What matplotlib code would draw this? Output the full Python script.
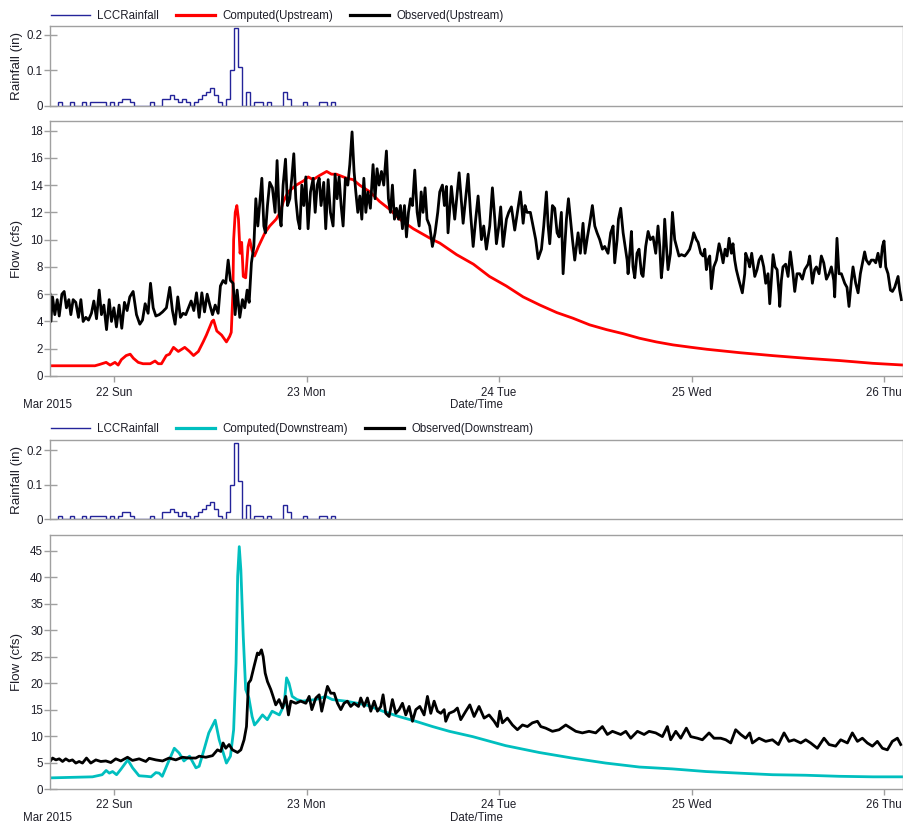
import numpy as np
import pandas as pd
import matplotlib
matplotlib.use("Agg")
import matplotlib.pyplot as plt
import matplotlib.dates as mdates
from matplotlib.lines import Line2D

plt.rcParams["font.family"] = ["Liberation Sans", "DejaVu Sans"]
plt.rcParams["font.size"] = 8.3

# all series are offsets from this time stamp
T0 = pd.Timestamp("2015-03-21 16:00")
T_END = pd.Timestamp("2015-03-26 02:22")

# LCC gauge, 30-minute totals (in), first interval starts 21 Mar 17:00
rain_start = pd.Timestamp("2015-03-21 17:00")
rain_in = [
    0.01, 0, 0, 0.01, 0, 0, 0.01, 0, 0.01, 0.01, 0.01, 0.01, 0, 0.01, 0,
    0.01, 0.02, 0.02, 0.01, 0, 0, 0, 0, 0.01, 0, 0, 0.02, 0.02, 0.03, 0.02,
    0.01, 0.02, 0.01, 0, 0.01, 0.02, 0.03, 0.04, 0.05, 0.03, 0.01, 0, 0.02,
    0.10, 0.22, 0.11, 0, 0.04, 0, 0.01, 0.01, 0, 0.01, 0, 0, 0, 0.04, 0.02,
    0, 0, 0, 0.01, 0, 0, 0, 0.01, 0.01, 0, 0.01,
]

# upstream model result, hours since T0
comp_up_hr = [
    0, 5.6, 6.2, 7.0, 7.5, 8.1, 8.5, 8.9, 9.5, 10.0, 10.4, 11.0, 11.6, 12.5,
    13.1, 13.5, 13.9, 14.5, 14.9, 15.4, 16.0, 16.8, 17.4, 17.9, 18.5, 19.1,
    19.5, 20.2, 20.4, 20.8, 21.4, 22.0, 22.4, 22.6, 22.8, 22.9, 23.1, 23.3,
    23.5, 23.7, 23.9, 24.1, 24.4, 24.7, 24.9, 25.2, 25.5, 26.0, 26.4, 26.8,
    27.4, 28.2, 28.7, 29.1, 29.7, 30.7, 31.6, 32.2, 32.8, 33.6, 34.5, 35.1,
    35.7, 37.0, 37.8, 38.6, 39.9, 41.1, 42.4, 43.6, 45.3, 47.7, 48.6, 50.7,
    52.8, 54.8, 56.9, 59.0, 61.1, 63.2, 65.2, 67.3, 69.4, 71.5, 73.5, 75.6,
    77.7, 80.0, 81.9, 86.0, 90.2, 94.3, 98.5, 102.6, 106.2,
]
comp_up_cfs = [
    0.75, 0.75, 0.85, 1.0, 0.8, 1.0, 0.8, 1.2, 1.5, 1.6, 1.3, 1.0, 0.9, 0.9,
    1.1, 0.9, 0.9, 1.5, 1.6, 2.1, 1.8, 2.1, 1.8, 1.5, 1.8, 2.5,
    3.0, 4.0, 4.1, 3.3, 3.0, 2.5, 2.9, 3.2, 6.0, 10.0, 12.0, 12.5,
    11.5, 9.0, 9.8, 7.3, 7.2, 9.5, 10.0, 9.2, 8.8, 9.5, 10.0, 10.5,
    11.0, 11.5, 12.0, 12.8, 13.5, 14.0, 14.3, 14.6, 14.4, 14.7, 15.0, 14.8,
    14.8, 14.5, 14.4, 14.0, 13.5, 12.8, 12.2, 11.5, 10.8, 10.0, 9.75, 8.9,
    8.2, 7.3, 6.6, 5.8, 5.2, 4.65, 4.24, 3.75, 3.4, 3.1, 2.77, 2.5,
    2.28, 2.1, 1.96, 1.71, 1.49, 1.3, 1.13, 0.93, 0.81,
]

# upstream gauge, minutes since T0
obs_up_min = [
    0, 6, 19, 36, 54, 69, 89, 106, 123, 141, 156, 173, 193, 213, 231, 248,
    268, 288, 310, 328, 348, 368, 385, 403, 423, 443, 460, 478, 497, 517,
    537, 557, 577, 597, 622, 647, 672, 692, 712, 734, 752, 772, 792, 817,
    842, 871, 896, 916, 936, 956, 976, 996, 1016, 1036, 1056, 1076, 1096,
    1116, 1136, 1156, 1176, 1196, 1216, 1236, 1258, 1275, 1295, 1315, 1333,
    1350, 1370, 1385, 1400, 1420, 1440, 1457, 1475, 1490, 1507, 1525, 1540,
    1555, 1570, 1585, 1600, 1612, 1627, 1644, 1664, 1684, 1699, 1714, 1729,
    1744, 1762, 1777, 1794, 1809, 1824, 1839, 1854, 1869, 1884, 1899, 1914,
    1931, 1949, 1969, 1984, 1999, 2014, 2028, 2048, 2063, 2081, 2098, 2118,
    2133, 2148, 2163, 2178, 2193, 2210, 2228, 2243, 2260, 2275, 2288, 2303,
    2318, 2333, 2348, 2363, 2378, 2397, 2417, 2432, 2447, 2462, 2480, 2497,
    2517, 2532, 2547, 2562, 2577, 2592, 2607, 2622, 2637, 2652, 2667, 2682,
    2697, 2712, 2729, 2747, 2762, 2777, 2791, 2806, 2821, 2841, 2861, 2881,
    2901, 2916, 2936, 2951, 2966, 2978, 3003, 3028, 3061, 3091, 3128, 3146,
    3166, 3185, 3203, 3228, 3245, 3265, 3290, 3310, 3328, 3340, 3358, 3372,
    3390, 3415, 3432, 3452, 3477, 3497, 3520, 3540, 3554, 3569, 3594, 3614,
    3634, 3652, 3677, 3694, 3714, 3727, 3739, 3759, 3776, 3794, 3809, 3826,
    3839, 3864, 3879, 3894, 3909, 3926, 3951, 3968, 3988, 4003, 4021, 4038,
    4058, 4076, 4093, 4113, 4133, 4150, 4175, 4195, 4213, 4225, 4243, 4253,
    4270, 4288, 4303, 4318, 4325, 4342, 4350, 4362, 4375, 4392, 4407, 4425,
    4437, 4457, 4475, 4492, 4512, 4532, 4549, 4562, 4574, 4587, 4599, 4612,
    4624, 4642, 4657, 4674, 4687, 4706, 4724, 4749, 4766, 4786, 4806, 4816,
    4836, 4849, 4869, 4886, 4899, 4911, 4923, 4936, 4948, 4966, 4986, 5006,
    5023, 5036, 5051, 5066, 5081, 5098, 5110, 5123, 5135, 5155, 5180, 5198,
    5205, 5223, 5235, 5250, 5273, 5290, 5305, 5322, 5340, 5355, 5372, 5385,
    5397, 5410, 5425, 5440, 5455, 5460, 5472, 5484, 5504, 5522, 5539, 5559,
    5572, 5589, 5609, 5629, 5647, 5672, 5684, 5704, 5721, 5734, 5754, 5771,
    5789, 5809, 5829, 5846, 5864, 5871, 5888, 5903, 5921, 5946, 5963, 5978,
    5996, 6008, 6028, 6046, 6063, 6083, 6095, 6108, 6128, 6145, 6163, 6178,
    6195, 6213, 6228, 6240, 6253, 6270, 6288, 6303, 6320, 6345, 6357, 6370,
]
obs_up_cfs = [
    6.0, 4.0, 5.8, 4.5, 5.6, 4.4, 6.0, 6.2, 5.0, 5.6, 4.5, 5.6, 5.4, 4.3, 5.6, 4.0,
    4.3, 4.1, 4.6, 5.5, 4.2, 6.3, 4.5, 5.2, 3.4, 5.6, 4.0, 5.0, 3.6, 5.2,
    3.5, 5.4, 4.8, 5.8, 6.2, 4.5, 3.8, 4.1, 5.3, 4.6, 6.8, 5.0, 4.4, 4.5,
    4.7, 5.0, 6.5, 4.8, 3.8, 5.8, 4.3, 4.6, 4.5, 5.0, 5.5, 4.8, 6.1,
    4.3, 6.1, 4.7, 6.0, 5.2, 4.5, 5.2, 4.6, 6.6, 7.0, 6.8, 8.5,
    7.0, 6.8, 4.5, 6.3, 4.3, 5.6, 5.0, 6.3, 5.4, 8.3, 9.5, 13.0,
    11.0, 12.8, 14.5, 11.0, 10.5, 12.5, 14.2, 13.8, 12.0, 15.8, 12.0, 11.0,
    14.0, 15.9, 12.5, 13.0, 14.5, 16.3, 13.0, 11.5, 10.8, 14.0, 12.5, 14.6,
    10.8, 13.5, 14.5, 12.0, 14.0, 14.5, 12.5, 14.2, 10.8, 14.4, 12.0, 11.0,
    14.8, 13.0, 14.6, 12.5, 11.0, 14.5, 14.0, 15.5, 17.9, 15.0, 13.5, 12.0,
    13.2, 11.5, 14.5, 12.0, 13.5, 12.3, 15.5, 13.0, 15.2, 14.0, 15.0, 14.0,
    16.5, 13.0, 12.0, 14.0, 11.5, 12.3, 11.5, 12.5, 10.8, 12.5, 10.2, 12.0,
    13.0, 12.5, 15.1, 12.0, 11.0, 13.5, 12.0, 13.8, 11.5, 11.0, 9.5, 10.5,
    12.0, 13.5, 14.0, 12.5, 13.9, 10.5, 13.9, 11.5, 14.9, 11.2, 14.8, 12.0,
    9.5, 11.5, 13.2, 10.0, 11.0, 9.3, 11.0, 13.8, 11.5, 9.7, 11.0, 12.4,
    9.5, 11.5, 12.0, 12.4, 10.7, 12.0, 13.5, 11.2, 12.5, 12.0, 12.0, 11.0,
    10.0, 8.6, 9.3, 11.0, 13.5, 11.0, 9.7, 12.5, 12.3, 10.5, 10.2, 12.0,
    7.5, 11.5, 13.0, 11.5, 10.0, 8.5, 10.5, 9.0, 11.2, 9.0, 10.2, 11.2,
    12.5, 11.0, 10.5, 10.0, 9.3, 9.5, 9.0, 10.5, 11.0, 8.3, 10.0, 11.5,
    12.3, 10.5, 9.5, 8.5, 7.5, 9.5, 10.6, 8.0, 7.2, 9.0, 9.3, 7.5,
    7.3, 9.5, 10.6, 10.0, 10.2, 9.0, 11.0, 9.5, 7.2, 8.5, 11.5, 9.5,
    7.8, 9.0, 12.0, 10.0, 9.5, 8.8, 8.9, 8.8, 9.0, 9.3, 10.0, 10.5,
    10.0, 9.8, 9.0, 8.8, 9.3, 7.8, 8.5, 8.8, 6.4, 8.0, 8.5, 9.7,
    9.0, 8.3, 9.3, 8.8, 10.1, 9.0, 9.7, 8.5, 7.8, 7.0, 6.1, 7.5,
    9.0, 8.5, 8.0, 9.0, 7.3, 7.8, 8.5, 8.8, 8.0, 6.8, 7.5, 5.3,
    7.0, 8.9, 8.0, 7.8, 6.0, 5.1, 7.0, 8.0, 8.2, 7.3, 9.1, 7.5,
    6.2, 7.5, 7.5, 7.1, 7.8, 8.2, 8.8, 6.8, 7.8, 8.0, 7.5, 8.8,
    8.3, 7.1, 7.5, 8.0, 7.0, 5.8, 10.1, 7.5, 7.5, 6.8, 6.5, 5.1,
    7.0, 8.0, 6.8, 6.1, 7.5, 8.5, 9.1, 8.5, 8.2, 8.5, 8.5, 8.3,
    9.0, 8.0, 9.5, 9.9, 8.0, 7.5, 6.3, 6.2, 6.5, 7.3, 6.3, 5.6,
]

# downstream model result, hours since T0
comp_dn_hr = [
    0, 5.3, 6.5, 7.0, 7.4, 7.8, 8.3, 8.8, 9.7, 10.3, 11.1, 12.0, 12.6, 13.2,
    13.6, 14.0, 14.7, 15.5, 16.1, 16.7, 17.4, 18.2, 18.6, 19.2, 19.8, 20.6,
    21.1, 22.0, 22.5, 22.9, 23.2, 23.4, 23.6, 23.8, 24.1, 24.4, 24.8, 25.2,
    25.5, 25.9, 26.5, 27.1, 27.7, 28.6, 29.2, 29.5, 29.8, 30.2, 30.8, 31.5,
    33.1, 34.4, 35.2, 36.9, 39.4, 41.5, 43.5, 45.6, 47.7, 49.8, 52.7, 56.8,
    61.0, 65.1, 69.3, 73.5, 77.6, 81.8, 85.9, 90.1, 94.2, 98.4, 102.6, 106.3,
]
comp_dn_cfs = [
    2.1, 2.3, 2.7, 3.5, 3.0, 3.3, 2.7, 3.65, 5.5, 4.0, 2.5, 2.4, 2.3, 3.1,
    3.0, 2.4, 4.9, 7.7, 6.8, 5.3, 6.2, 4.0, 4.3, 7.4, 10.6, 13.0,
    9.3, 4.9, 6.2, 11.2, 23.8, 40.2, 45.8, 41.4, 28.8, 18.8, 17.2, 13.7,
    12.1, 12.8, 14.0, 13.1, 14.7, 14.0, 15.9, 21.0, 20.0, 17.5, 16.9, 16.6,
    16.9, 17.5, 16.9, 16.6, 15.9, 14.7, 13.7, 12.8, 11.8, 10.9, 9.9, 8.2,
    6.9, 5.85, 4.9, 4.15, 3.8, 3.3, 3.0, 2.7, 2.6, 2.4, 2.3, 2.3,
]

# downstream gauge, minutes since T0
obs_dn_min = [
    0, 19, 44, 69, 94, 118, 143, 168, 193, 218, 243, 273, 305, 343, 380,
    418, 455, 492, 530, 580, 617, 667, 717, 742, 792, 842, 891, 941, 991,
    1041, 1091, 1116, 1166, 1216, 1253, 1278, 1295, 1315, 1340, 1365, 1403,
    1428, 1452, 1470, 1485, 1502, 1527, 1552, 1565, 1582, 1595, 1610, 1627,
    1652, 1669, 1689, 1714, 1739, 1764, 1784, 1802, 1839, 1876, 1914, 1939,
    1959, 1989, 2014, 2033, 2058, 2076, 2101, 2126, 2151, 2176, 2200, 2225,
    2250, 2275, 2308, 2325, 2350, 2375, 2400, 2425, 2450, 2475, 2492, 2512,
    2537, 2562, 2587, 2612, 2637, 2662, 2687, 2712, 2737, 2767, 2799, 2824,
    2849, 2874, 2899, 2924, 2949, 2961, 2986, 3023, 3048, 3073, 3111, 3141,
    3173, 3210, 3248, 3285, 3323, 3348, 3365, 3385, 3422, 3460, 3497, 3535,
    3572, 3609, 3647, 3672, 3709, 3759, 3809, 3859, 3896, 3934, 3983, 4033,
    4083, 4133, 4170, 4208, 4270, 4308, 4345, 4395, 4445, 4482, 4532, 4582,
    4619, 4644, 4682, 4719, 4761, 4794, 4844, 4881, 4931, 4968, 5018, 5056,
    5093, 5130, 5168, 5205, 5235, 5255, 5305, 5355, 5405, 5450, 5492, 5529,
    5567, 5617, 5654, 5691, 5741, 5791, 5829, 5878, 5916, 5966, 6003, 6041,
    6078, 6115, 6153, 6190, 6228, 6265, 6302, 6340, 6365,
]
obs_dn_cfs = [
    5.2, 5.85, 5.5, 5.7, 5.2, 5.7, 5.3, 5.5, 4.9, 5.2, 4.9, 5.85, 4.9, 5.5, 5.2,
    5.3, 5.0, 5.7, 5.3, 6.0, 5.4, 5.7, 5.2, 5.8, 5.5, 5.3, 5.85, 5.5, 6.0,
    5.85, 5.85, 6.2, 6.0, 6.3, 7.4, 7.1, 8.7, 7.7, 8.4, 7.4, 6.9,
    7.4, 9.3, 11.8, 20.0, 20.6, 23.2, 25.7, 25.4, 26.3, 25.0, 21.9, 20.3,
    18.8, 17.5, 15.9, 16.9, 15.3, 17.5, 14.0, 16.6, 16.2, 16.6, 16.2, 17.5,
    15.0, 17.2, 17.8, 14.7, 17.5, 19.4, 18.1, 18.1, 16.2, 15.0, 16.2, 16.6,
    15.6, 16.2, 15.6, 17.2, 15.6, 17.2, 14.7, 16.6, 14.7, 15.6, 17.8, 14.3,
    13.7, 16.9, 14.3, 15.0, 16.2, 14.0, 15.6, 12.8, 15.0, 15.6, 14.0, 17.5,
    14.3, 16.6, 14.7, 14.3, 15.0, 12.8, 14.3, 14.7, 15.3, 13.1, 14.7, 15.9,
    13.7, 15.6, 13.4, 14.0, 12.8, 11.8, 14.7, 12.5, 13.4, 12.1, 11.2, 12.1,
    11.8, 12.5, 12.8, 11.8, 11.5, 10.9, 11.2, 12.1, 11.5, 10.9, 10.6, 10.9,
    10.6, 11.8, 10.3, 10.9, 10.3, 10.9, 9.6, 10.9, 10.3, 10.9, 10.6, 9.9,
    11.8, 9.3, 10.9, 9.6, 11.5, 9.9, 9.6, 9.3, 10.6, 9.6, 9.6, 9.3,
    8.7, 11.2, 10.3, 9.6, 10.6, 8.7, 9.6, 9.0, 9.3, 8.4, 10.6, 9.0,
    9.3, 8.7, 9.3, 8.7, 7.7, 9.6, 8.4, 8.1, 9.3, 8.7, 10.6, 9.0,
    9.6, 8.7, 8.1, 9.0, 7.7, 7.4, 9.0, 9.6, 8.4,
]

GREY = "#a0a0a0"
INK = "#1e1e28"
RAIN_BLUE = "#24249a"
PX = 0.72  # points per pixel at 100 dpi

fig = plt.figure(figsize=(9.04, 8.27), dpi=100)


def to_time(offsets, unit):
    return T0 + pd.to_timedelta(offsets, unit=unit)


def frame(ax):
    for s in ax.spines.values():
        s.set_color(GREY)
        s.set_linewidth(1.0)
    ax.tick_params(axis="y", direction="inout", length=13 * PX, width=1,
                   color=GREY, labelcolor=INK, pad=0.5 * PX)
    ax.tick_params(axis="x", direction="out", length=6 * PX, width=1,
                   color=GREY, labelcolor=INK, pad=4.5 * PX)


def side_label(ax, text):
    ax.annotate(text, xy=(0, 0.5), xycoords="axes fraction",
                xytext=(-33 * PX, 0), textcoords="offset points",
                rotation=90, ha="center", va="center", color=INK, fontsize=9.6)


def panel(top_px, rain_h, flow_top_px, flow_bot_px, comp_t, comp_q, comp_color,
          comp_label, obs_t, obs_q, obs_label, flow_max, flow_ticks, rain_max,
          legend_y):
    W, H = 904.0, 827.0
    left, width = 50 / W, 853 / W
    ax_r = fig.add_axes([left, 1 - (top_px + rain_h) / H, width, rain_h / H])
    ax_f = fig.add_axes([left, 1 - flow_bot_px / H, width,
                         (flow_bot_px - flow_top_px) / H], sharex=ax_r)

    edges = rain_start + pd.to_timedelta(30 * np.arange(len(rain_in) + 1), unit="min")
    ax_r.stairs(rain_in, mdates.date2num(edges.to_pydatetime()), baseline=0,
                color=RAIN_BLUE, lw=1.0)
    ax_r.set_ylim(0, rain_max)
    ax_r.set_yticks([0, 0.1, 0.2], labels=["0", "0.1", "0.2"])
    frame(ax_r)
    ax_r.tick_params(axis="x", bottom=False, labelbottom=False)
    side_label(ax_r, "Rainfall (in)")

    ax_f.plot(comp_t, comp_q, color=comp_color, lw=2.0, solid_joinstyle="round")
    ax_f.plot(obs_t, obs_q, color="black", lw=2.0, solid_joinstyle="round")
    ax_f.set_ylim(0, flow_max)
    ax_f.set_yticks(flow_ticks)
    ax_f.set_xlim(T0, T_END)
    ax_f.xaxis.set_major_locator(mdates.DayLocator())
    ax_f.xaxis.set_major_formatter(mdates.DateFormatter("%d %a"))
    frame(ax_f)
    side_label(ax_f, "Flow (cfs)")
    ax_f.annotate("Date/Time", xy=(0.5, 0), xycoords="axes fraction",
                  xytext=(0, -29 * PX), textcoords="offset points",
                  ha="center", va="center", color=INK)
    ax_f.annotate("Mar 2015", xy=(0, 0), xycoords="axes fraction",
                  xytext=(-27 * PX, -29 * PX), textcoords="offset points",
                  ha="left", va="center", color=INK)

    handles = [Line2D([], [], color=RAIN_BLUE, lw=1.0),
               Line2D([], [], color=comp_color, lw=2.3),
               Line2D([], [], color="black", lw=2.3)]
    leg = fig.legend(handles, ["LCCRainfall", comp_label, obs_label],
                     loc="center left", bbox_to_anchor=(51 / W, 1 - legend_y / H),
                     ncol=3, frameon=False, handlelength=3.36, handletextpad=0.64,
                     columnspacing=1.5, borderpad=0, borderaxespad=0)
    for t in leg.get_texts():
        t.set_color(INK)


panel(26, 80, 121, 376,
      to_time(comp_up_hr, "h"), comp_up_cfs, "#ff0000", "Computed(Upstream)",
      to_time(obs_up_min, "min"), obs_up_cfs, "Observed(Upstream)",
      18.7, range(0, 19, 2), 0.225, 16)

panel(440, 79, 535, 789,
      to_time(comp_dn_hr, "h"), comp_dn_cfs, "#00bfbf", "Computed(Downstream)",
      to_time(obs_dn_min, "min"), obs_dn_cfs, "Observed(Downstream)",
      48, range(0, 46, 5), 0.23, 429)

fig.savefig("out.png", dpi=100)
